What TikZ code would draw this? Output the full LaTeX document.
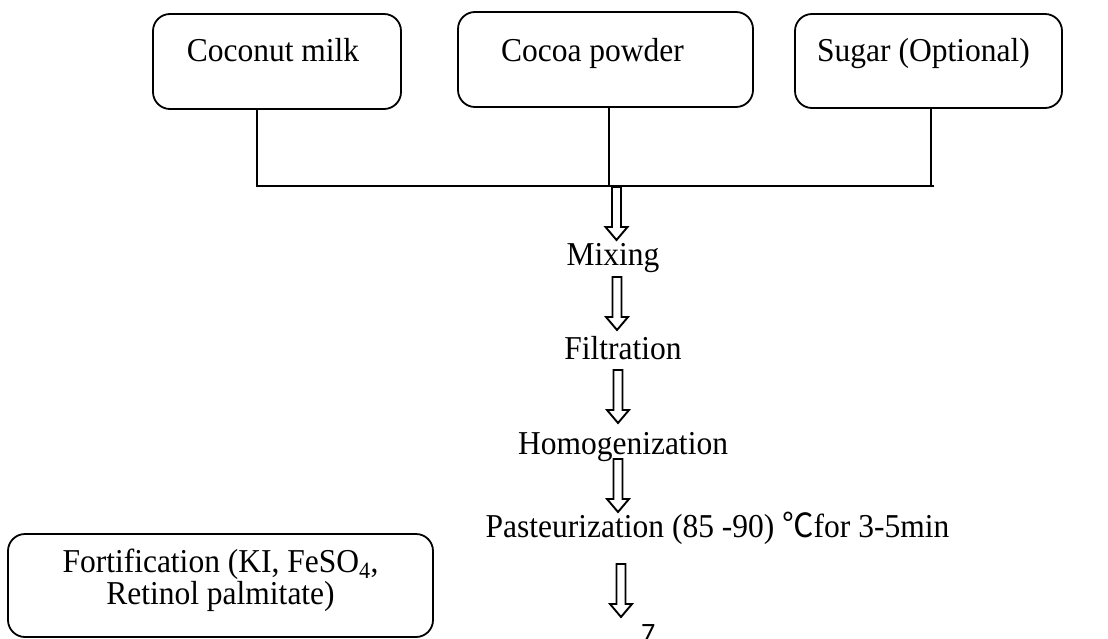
\documentclass[tikz,border=0pt]{standalone}
\usepackage{fontspec}
\setmainfont{Liberation Serif}
\newfontfamily\cjk{Noto Sans CJK SC}
\newfontfamily\calib{Carlito}
\usetikzlibrary{calc}
\newcommand\tall[1]{\scalebox{1}[1.06]{#1}}
\tikzset{
  box/.style={draw, line width=1.8pt, rounded corners=17pt, inner sep=0pt},
  lbl/.style={font=\fontsize{31.5}{29}\selectfont, inner sep=0pt, anchor=base},
  link/.style={line width=1.1pt},
  harr/.style={draw, line width=1.9pt, fill=white, line join=miter},
}
\newcommand\harrow[2]{\path[harr] let \p1=(#1), \p2=(#2) in
  (\x1-4.5pt,\y1) -- (\x1+4.5pt,\y1) -- (\x1+4.5pt,\y2+13pt) -- (\x1+11pt,\y2+13pt)
  -- (\x1,\y2) -- (\x1-11pt,\y2+13pt) -- (\x1-4.5pt,\y2+13pt) -- cycle;}
\begin{document}
\begin{tikzpicture}[x=1pt,y=-1pt]
\useasboundingbox (0,0) rectangle (1108,639);
% top boxes
\node[box, minimum width=248pt, minimum height=95pt] (cm) at (277,61.5) {};
\node[box, minimum width=295pt, minimum height=95pt] (cp) at (605.5,59.5) {};
\node[box, minimum width=267pt, minimum height=94pt] (sg) at (928.5,61) {};
\node[lbl] (cmt) at (273,62) {\tall{Coconut milk}};
\node[lbl] (cpt) at (592.5,62) {\tall{Cocoa powder}};
\node[lbl] (sgt) at (923.5,62) {\tall{Sugar (Optional)}};
% junction
\coordinate (j1) at (257,186);
\coordinate (j2) at (609,186);
\coordinate (j3) at (931,186);
\coordinate (jend) at (934,186);
\draw[link] (cm.south -| j1) -- (j1) -- (jend);
\draw[link] (cp.south -| j2) -- (j2);
\draw[link] (sg.south -| j3) -- (j3);
% process steps
\node[lbl] (mix) at (613,265) {\tall{Mixing}};
\node[lbl] (filt) at (623,359) {\tall{Filtration}};
\node[lbl] (homo) at (623,454) {\tall{Homogenization}};
\node[lbl] (past) at (717.5,537) {\tall{Pasteurization (85 -90) {\cjk ℃}for 3-5min}};
% arrows
\coordinate (a1s) at (616.5,187); \coordinate (a1e) at (616.5,240);
\coordinate (a2s) at (617,277);   \coordinate (a2e) at (617,330);
\coordinate (a3s) at (618,370);   \coordinate (a3e) at (618,423);
\coordinate (a4s) at (618,459);   \coordinate (a4e) at (618,512);
\coordinate (a5s) at (621,564);   \coordinate (a5e) at (621,617);
\harrow{a1s}{a1e}
\harrow{a2s}{a2e}
\harrow{a3s}{a3e}
\harrow{a4s}{a4e}
\harrow{a5s}{a5e}
% fortification
\node[box, minimum width=425pt, minimum height=103pt] (fort) at (220.5,585.5) {};
\node[lbl] (fortt) at (220.5,572) {\tall{\begin{tabular}[t]{@{}c@{}}Fortification (KI, FeSO\textsubscript{4},\\Retinol palmitate)\end{tabular}}};
% page number
\node[font=\calib\fontsize{28}{28}\selectfont, anchor=base west, inner sep=0pt] (seven) at (641,642) {7};
\end{tikzpicture}
\end{document}
